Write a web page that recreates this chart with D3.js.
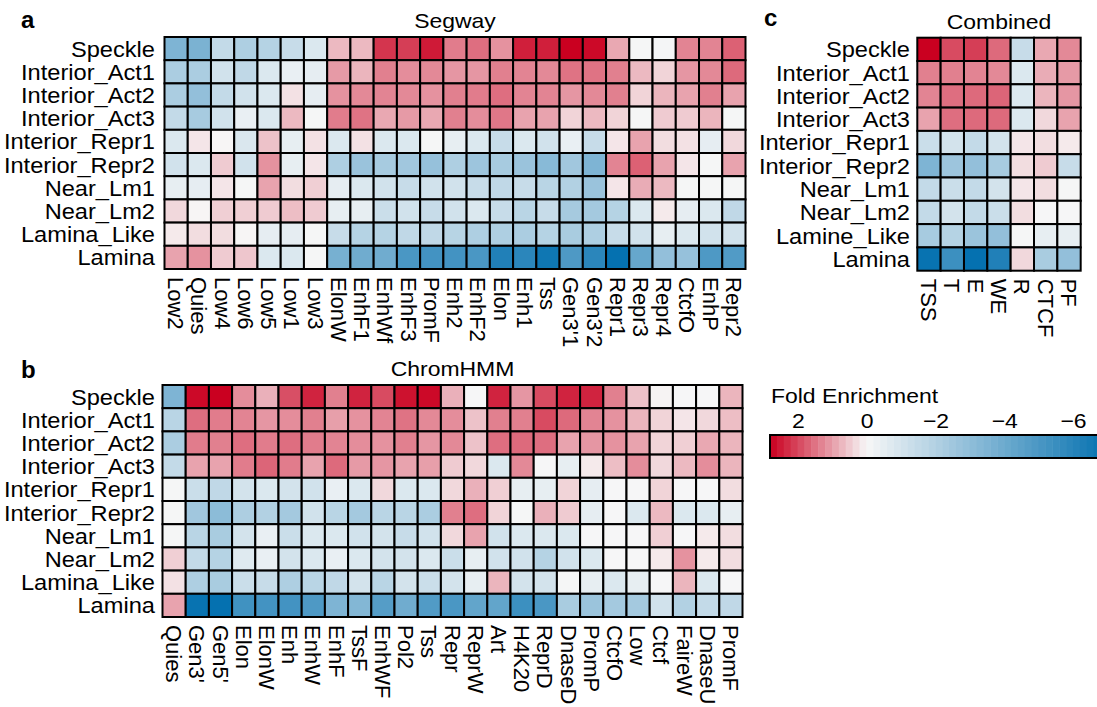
<!DOCTYPE html>
<html>
<head>
<meta charset="utf-8">
<script src="https://cdn.jsdelivr.net/npm/d3@7"></script>
<style>
  body { margin: 0; background: #fff; }
  svg { display: block; font-family: "Liberation Sans", Arial, sans-serif; }
</style>
</head>
<body>
<svg id="chart" width="1097" height="707"></svg>
<script>
// Row (compartment) labels
const rowsAB = ["Speckle", "Interior_Act1", "Interior_Act2", "Interior_Act3", "Interior_Repr1",
  "Interior_Repr2", "Near_Lm1", "Near_Lm2", "Lamina_Like", "Lamina"];
const rowsC = ["Speckle", "Interior_Act1", "Interior_Act2", "Interior_Act3", "Interior_Repr1",
  "Interior_Repr2", "Near_Lm1", "Near_Lm2", "Lamine_Like", "Lamina"];

// Segway states
const segwayCols = ["Low2", "Quies", "Low4", "Low6", "Low5", "Low1", "Low3", "ElonW", "EnhF1", "EnhWf",
  "EnhF3", "PromF", "Enh2", "EnhF2", "Elon", "Enh1", "Tss", "Gen3'1", "Gen3'2", "Repr1", "Repr3",
  "Repr4", "CtcfO", "EnhP", "Repr2"];
const segwayValues = [
  [-3.5, -3.6, -1.5, -2.1, -1.9, -1.4, -0.8, 0.7, 0.7, 2.2, 2.1, 2.5, 1.4, 1.55, 1.15, 2.45, 2.45, 2.8, 2.7, 0.9, -0.05, -0.1, 1.3, 1.3, 1.7],
  [-2.2, -2.2, -1.1, -1.6, -0.8, -0.4, -0.5, 1.05, 0.75, 1.35, 1.2, 1.25, 1.1, 1.1, 1.35, 1.3, 1.25, 1.5, 1.5, 1.35, 0.7, 0.4, 1.1, 1.25, 1.6],
  [-2.2, -2.9, -1.5, -1.1, -0.8, 0.25, -0.5, 1.15, 1.25, 1.3, 1.25, 1.15, 1.35, 1.4, 1.55, 1.3, 1.3, 1.1, 1.25, 1.35, 0.4, 0.75, 0.95, 1.35, 0.95],
  [-1.5, -2.3, -1.1, -0.4, -0.8, 0.7, -0.05, 1.4, 1.5, 0.9, 1.05, 0.9, 1.35, 1.2, 1.45, 0.95, 0.95, 0.4, 0.7, 0.4, -0.05, 0.5, 0.5, 0.75, -0.05],
  [-0.8, 0.2, 0.02, -0.85, 0.6, -0.45, 0.25, -0.8, 0.25, -0.8, -0.8, -0.05, -0.45, -0.8, -1.4, -0.8, -1.1, -0.4, -1.4, 0.2, 0.95, 0.3, 0.25, -0.5, 0.35],
  [-1.1, -0.8, 0.5, -1.1, 1.15, -0.45, 0.2, -2.1, -2.7, -2.3, -2.5, -2.8, -2.1, -2.6, -2.3, -2.7, -3.2, -2.5, -3.5, 1.3, 1.7, 0.95, 0.2, -0.05, 0.95],
  [-0.45, -0.5, 0.2, -0.05, 0.95, 0.3, 0.45, -0.5, -0.8, -1.1, -1.4, -1.1, -1.1, -1.4, -1.6, -1.4, -1.8, -2.0, -2.7, 0.2, 0.85, 0.7, -0.05, -0.05, -0.05],
  [0.35, 0.02, 0.45, 0.45, 0.5, 0.65, 0.5, -0.45, -0.45, -1.3, -1.1, -1.4, -1.1, -0.8, -1.4, -1.8, -1.4, -2.35, -2.4, -1.9, -0.8, 0.15, -0.5, -0.8, -1.6],
  [0.15, 0.3, 0.3, 0.02, -0.5, -0.5, -0.05, -1.4, -1.9, -1.9, -1.6, -1.6, -1.85, -2.1, -2.1, -2.2, -1.9, -2.25, -2.1, -1.4, -1.1, -0.45, -0.8, -1.1, -1.1],
  [0.95, 1.15, 0.5, 0.55, -0.8, -0.8, -0.05, -3.7, -3.9, -3.9, -5.0, -5.2, -5.2, -5.0, -6.2, -5.9, -6.7, -4.9, -5.9, -7.0, -4.2, -2.9, -2.8, -4.9, -4.8]
];

// ChromHMM states
const chromhmmCols = ["Quies", "Gen3'", "Gen5'", "Elon", "ElonW", "Enh", "EnhW", "EnhF", "TssF", "EnhWF",
  "Pol2", "Tss", "Repr", "ReprW", "Art", "H4K20", "ReprD", "DnaseD", "PromP", "CtcfO", "Low", "Ctcf",
  "FaireW", "DnaseU", "PromF"];
const chromhmmValues = [
  [-3.5, 2.7, 2.8, 1.2, 0.8, 1.9, 2.4, 1.35, 2.4, 1.95, 2.6, 2.7, 0.8, -0.03, 2.4, 1.1, 1.95, 2.4, 2.4, 1.35, 0.6, 0.05, -0.03, -0.03, 0.75],
  [-1.8, 1.55, 1.4, 1.3, 1.1, 1.2, 1.35, 1.0, 1.15, 1.3, 1.5, 1.25, 1.2, 0.6, 1.35, 1.35, 1.95, 1.6, 1.3, 1.15, 0.75, 0.4, 0.2, 0.35, 0.65],
  [-2.2, 1.4, 1.35, 1.55, 1.4, 1.55, 1.4, 1.3, 1.2, 1.15, 1.35, 1.1, 1.25, 0.6, 1.55, 1.6, 1.55, 0.95, 1.1, 1.15, 0.95, 0.4, 0.45, 0.9, 0.75],
  [-1.5, 0.95, 0.95, 1.4, 1.65, 1.4, 0.95, 1.6, 1.05, 1.1, 0.95, 1.0, 0.5, 0.35, -0.8, 1.25, -0.03, -0.45, 0.15, 0.65, 1.2, 0.35, 0.7, 1.2, 0.75],
  [-0.05, -1.3, -1.6, -1.05, -0.8, -1.05, -1.1, -0.4, -0.8, 0.35, -0.8, -0.8, 0.35, 0.8, 0.45, -0.45, -0.45, 0.4, -0.5, -0.03, -0.03, 0.4, -0.03, -0.03, 0.3],
  [-0.05, -2.5, -3.1, -2.15, -2.0, -2.4, -1.1, -1.8, -2.4, -1.8, -1.8, -2.2, 1.35, 1.55, 0.4, -0.05, 0.8, 0.5, -0.5, -0.03, -0.8, 0.7, -0.8, -0.8, -0.45],
  [-0.05, -1.8, -2.25, -1.05, -0.4, -1.3, -0.8, -0.8, -1.1, -1.05, -1.4, -1.1, 0.35, 0.95, -1.1, -0.8, -0.8, -0.8, -0.03, -0.03, -0.03, 0.45, -0.03, 0.15, 0.3],
  [0.45, -1.5, -1.9, -0.7, -0.4, -1.05, -0.8, -0.4, -0.8, -1.05, -1.05, -0.8, -1.3, -0.45, -1.1, -1.1, -1.9, -1.1, -0.8, -0.03, -0.03, 0.15, 1.15, 0.15, 0.3],
  [0.25, -2.1, -2.25, -1.3, -1.4, -2.1, -1.8, -1.6, -1.05, -1.8, -1.05, -1.3, -1.05, -0.45, 0.75, -1.05, -1.05, -0.05, -0.45, -0.8, -0.45, -0.03, 0.75, -0.8, -0.03],
  [0.95, -6.9, -7.0, -5.3, -5.2, -5.2, -4.9, -3.5, -3.35, -4.7, -3.9, -4.8, -5.0, -4.3, -4.3, -5.4, -5.0, -2.25, -2.65, -2.4, -2.4, -1.1, -2.0, -1.5, -1.6]
];

// Combined states
const combinedCols = ["TSS", "T", "E", "WE", "R", "CTCF", "PF"];
const combinedValues = [
  [2.8, 1.95, 2.1, 1.6, -1.4, 0.9, 1.25],
  [1.35, 1.35, 1.3, 1.25, -0.8, 0.85, 1.05],
  [1.3, 1.55, 1.6, 1.65, -0.8, 0.75, 1.1],
  [0.95, 1.55, 1.6, 1.6, -0.8, 0.35, 0.95],
  [-1.3, -1.05, -1.5, -1.05, 0.2, 0.3, 0.15],
  [-3.5, -2.6, -2.9, -2.3, 0.3, 0.5, -1.4],
  [-1.5, -1.3, -1.5, -1.05, 0.2, 0.3, -0.05],
  [-1.5, -1.05, -1.5, -1.3, 0.3, -0.03, -0.03],
  [-2.3, -1.9, -2.65, -2.9, -0.05, -0.45, -0.45],
  [-6.9, -5.4, -7.0, -6.2, 0.35, -2.25, -2.9]
];

// Legend ticks
const legendTicks = [2, 0, -2, -4, -6];

const svg = d3.select("#chart");
svg.append("rect").attr("width", 1097).attr("height", 707).attr("fill", "#fff");

// Diverging fold-enrichment colour scale
const color = d3.scaleLinear()
  .domain([2.8, 0, -7])
  .range(["#ca0020", "#f7f7f7", "#0571b0"])
  .clamp(true);

// Text sizes; horizontal text is set a little wide
const LABEL_FS = 22, LABEL_SX = 1.075, COL_SX = 1.0;
const TITLE_FS = 20.5, TITLE_SX = 1.12;

function heatmap(opts) {
  const { x0, y0, cw, ch, rows, cols, values, title, titleY, labelRight, letter, letterX, letterY } = opts;
  const g = svg.append("g");
  const x = d3.scaleBand().domain(d3.range(cols.length)).range([x0, x0 + cw * cols.length]);
  const y = d3.scaleBand().domain(d3.range(rows.length)).range([y0, y0 + ch * rows.length]);

  const cells = [];
  values.forEach((row, i) => row.forEach((v, j) => cells.push({ i, j, v })));

  g.selectAll("rect.cell").data(cells).join("rect")
    .attr("class", "cell")
    .attr("x", d => x(d.j))
    .attr("y", d => y(d.i))
    .attr("width", x.bandwidth())
    .attr("height", y.bandwidth())
    .attr("fill", d => color(d.v))
    .attr("stroke", "#000")
    .attr("stroke-width", 2);

  // row labels
  g.selectAll("text.row").data(rows).join("text")
    .attr("class", "row")
    .attr("transform", (d, i) => `translate(${labelRight},${y(i) + y.bandwidth() / 2}) scale(${LABEL_SX},1)`)
    .attr("dy", "0.36em")
    .attr("text-anchor", "end")
    .attr("font-size", LABEL_FS)
    .text(d => d);

  // column labels, rotated to read downward
  const yb = y0 + ch * rows.length + 8;
  g.selectAll("text.col").data(cols).join("text")
    .attr("class", "col")
    .attr("transform", (d, j) => `translate(${x(j) + x.bandwidth() / 2},${yb}) rotate(90) scale(${COL_SX},1)`)
    .attr("dy", "0.36em")
    .attr("text-anchor", "start")
    .attr("font-size", LABEL_FS)
    .text(d => d);

  // title
  g.append("text")
    .attr("transform", `translate(${x0 + cw * cols.length / 2},${titleY}) scale(${TITLE_SX},1)`)
    .attr("text-anchor", "middle")
    .attr("font-size", TITLE_FS)
    .text(title);

  // panel letter
  g.append("text")
    .attr("x", letterX)
    .attr("y", letterY)
    .attr("font-size", 24)
    .attr("font-weight", "bold")
    .text(letter);
}

heatmap({ x0: 164.5, y0: 37, cw: 23.24, ch: 23.2, rows: rowsAB, cols: segwayCols, values: segwayValues,
  title: "Segway", titleY: 28, labelRight: 155, letter: "a", letterX: 21, letterY: 28 });
heatmap({ x0: 162.5, y0: 385, cw: 23.2, ch: 23.2, rows: rowsAB, cols: chromhmmCols, values: chromhmmValues,
  title: "ChromHMM", titleY: 376, labelRight: 155, letter: "b", letterX: 21, letterY: 378 });
heatmap({ x0: 917.3, y0: 37.7, cw: 23.34, ch: 23.3, rows: rowsC, cols: combinedCols, values: combinedValues,
  title: "Combined", titleY: 29, labelRight: 910, letter: "c", letterX: 764, letterY: 26 });

// Colour key
const lx = d3.scaleLinear().domain([2, -6]).range([798, 1073]);
const lg = svg.append("g");
lg.append("text")
  .attr("transform", `translate(771,403) scale(${TITLE_SX},1)`)
  .attr("font-size", TITLE_FS)
  .text("Fold Enrichment");

const nBands = 50;
const vStart = lx.invert(770), vEnd = -7.2;
const bands = d3.range(nBands).map(k => {
  const a = vStart + (vEnd - vStart) * k / nBands;
  const b = vStart + (vEnd - vStart) * (k + 1) / nBands;
  return { a, b };
});
lg.selectAll("rect.band").data(bands).join("rect")
  .attr("class", "band")
  .attr("x", d => lx(d.a))
  .attr("y", 435)
  .attr("width", d => lx(d.b) - lx(d.a) + 0.5)
  .attr("height", 23)
  .attr("fill", d => color((d.a + d.b) / 2));
lg.append("rect")
  .attr("x", 770).attr("y", 435)
  .attr("width", lx(vEnd) - 770).attr("height", 23)
  .attr("fill", "none").attr("stroke", "#000").attr("stroke-width", 2);

const axis = d3.axisTop(lx).tickValues(legendTicks).tickSize(0).tickFormat(d3.format("d"));
const ax = lg.append("g").attr("transform", "translate(0,428)").call(axis);
ax.select(".domain").remove();
ax.selectAll("text")
  .attr("font-size", TITLE_FS)
  .attr("font-family", "Liberation Sans, Arial, sans-serif")
  .attr("fill", "#000")
  .attr("y", 0)
  .attr("dy", 0)
  .attr("transform", `scale(${TITLE_SX},1)`);
</script>
</body>
</html>
